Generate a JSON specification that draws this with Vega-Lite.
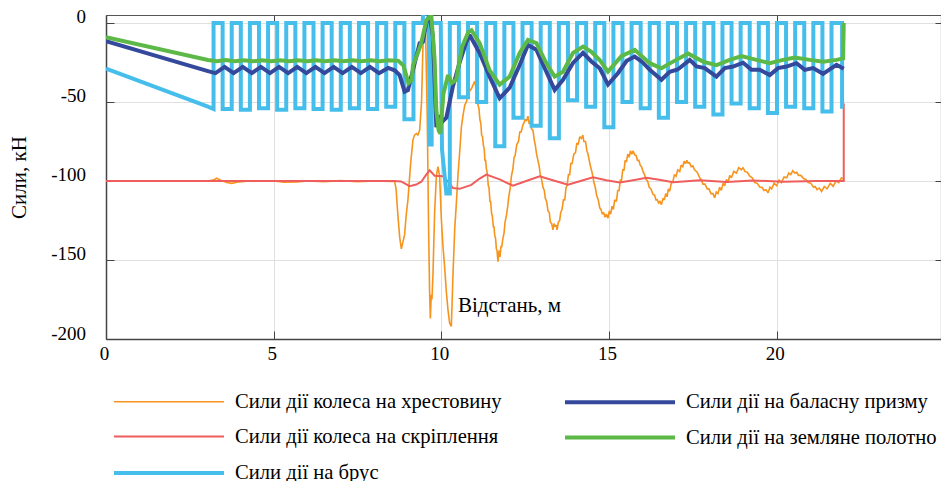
{
"$schema": "https://vega.github.io/schema/vega-lite/v6.json",
"width": 835, "height": 324,
"autosize": {"type": "none"},
"padding": {"left": 106, "top": 15, "right": 0, "bottom": 142},
"background": "white",
"config": {"font": "Liberation Serif", "view": {"stroke": null}},
"datasets": {
"lines": [
{"s":"A","x":0,"y":-100},{"s":"A","x":1.5,"y":-100.2},{"s":"A","x":3.0,"y":-100},{"s":"A","x":3.2,"y":-99.5},{"s":"A","x":3.3,"y":-98.3},{"s":"A","x":3.45,"y":-99.8},{"s":"A","x":3.6,"y":-101},{"s":"A","x":3.75,"y":-101.5},{"s":"A","x":3.9,"y":-100.8},{"s":"A","x":4.2,"y":-100.2},{"s":"A","x":5.0,"y":-100},{"s":"A","x":5.3,"y":-100.8},{"s":"A","x":5.7,"y":-100.6},{"s":"A","x":6.0,"y":-100},{"s":"A","x":6.5,"y":-100.4},{"s":"A","x":7.0,"y":-99.8},{"s":"A","x":7.5,"y":-100.5},{"s":"A","x":8.0,"y":-100},{"s":"A","x":8.55,"y":-100.3},{"s":"A","x":8.607,"y":-100.2},{"s":"A","x":8.65,"y":-105},{"s":"A","x":8.705,"y":-122},{"s":"A","x":8.76,"y":-136},{"s":"A","x":8.807,"y":-143},{"s":"A","x":8.85,"y":-139},{"s":"A","x":8.905,"y":-134},{"s":"A","x":8.95,"y":-122},{"s":"A","x":9.004,"y":-112},{"s":"A","x":9.08,"y":-90},{"s":"A","x":9.153,"y":-74},{"s":"A","x":9.2,"y":-71},{"s":"A","x":9.254,"y":-70},{"s":"A","x":9.3,"y":-71},{"s":"A","x":9.353,"y":-68},{"s":"A","x":9.41,"y":-50},{"s":"A","x":9.451,"y":-15},{"s":"A","x":9.5,"y":-4},{"s":"A","x":9.532,"y":-8},{"s":"A","x":9.58,"y":-60},{"s":"A","x":9.62,"y":-130},{"s":"A","x":9.65,"y":-170},{"s":"A","x":9.672,"y":-187},{"s":"A","x":9.7,"y":-172},{"s":"A","x":9.72,"y":-175},{"s":"A","x":9.749,"y":-160},{"s":"A","x":9.8,"y":-120},{"s":"A","x":9.851,"y":-97},{"s":"A","x":9.899,"y":-91},{"s":"A","x":9.949,"y":-97},{"s":"A","x":10.0,"y":-124},{"s":"A","x":10.048,"y":-141},{"s":"A","x":10.1,"y":-155},{"s":"A","x":10.149,"y":-170},{"s":"A","x":10.2,"y":-182},{"s":"A","x":10.248,"y":-190},{"s":"A","x":10.298,"y":-192},{"s":"A","x":10.346,"y":-160},{"s":"A","x":10.4,"y":-130},{"s":"A","x":10.448,"y":-114},{"s":"A","x":10.5,"y":-95},{"s":"A","x":10.546,"y":-82},{"s":"A","x":10.597,"y":-66},
{"s":"A","x":10.65,"y":-58},{"s":"A","x":10.7,"y":-52},{"s":"A","x":10.746,"y":-50},{"s":"A","x":10.8,"y":-45.5},{"s":"A","x":10.85,"y":-43},{"s":"A","x":10.9,"y":-41.5},{"s":"A","x":10.95,"y":-39},{"s":"A","x":10.993,"y":-37},{"s":"A","x":11.03,"y":-41},{"s":"A","x":11.06,"y":-45},{"s":"A","x":11.092,"y":-52},{"s":"A","x":11.12,"y":-54},{"s":"A","x":11.15,"y":-61},{"s":"A","x":11.18,"y":-64},{"s":"A","x":11.2,"y":-71},{"s":"A","x":11.23,"y":-72},{"s":"A","x":11.25,"y":-77},{"s":"A","x":11.28,"y":-80},{"s":"A","x":11.3,"y":-87},{"s":"A","x":11.32,"y":-87},{"s":"A","x":11.342,"y":-92},{"s":"A","x":11.37,"y":-95},{"s":"A","x":11.4,"y":-103},{"s":"A","x":11.42,"y":-104},{"s":"A","x":11.45,"y":-113},{"s":"A","x":11.47,"y":-113},{"s":"A","x":11.5,"y":-121},{"s":"A","x":11.52,"y":-122},{"s":"A","x":11.55,"y":-129},{"s":"A","x":11.57,"y":-129},{"s":"A","x":11.59,"y":-134},{"s":"A","x":11.62,"y":-137},{"s":"A","x":11.64,"y":-143},{"s":"A","x":11.66,"y":-144},{"s":"A","x":11.689,"y":-151},{"s":"A","x":11.72,"y":-144},{"s":"A","x":11.75,"y":-148},{"s":"A","x":11.78,"y":-141},{"s":"A","x":11.8,"y":-142},{"s":"A","x":11.838,"y":-136},{"s":"A","x":11.87,"y":-133},{"s":"A","x":11.9,"y":-126},{"s":"A","x":11.94,"y":-122},{"s":"A","x":11.98,"y":-116},{"s":"A","x":12.01,"y":-110},{"s":"A","x":12.05,"y":-105},{"s":"A","x":12.09,"y":-97},{"s":"A","x":12.136,"y":-92},{"s":"A","x":12.17,"y":-85},{"s":"A","x":12.2,"y":-84},{"s":"A","x":12.25,"y":-77},{"s":"A","x":12.3,"y":-75},{"s":"A","x":12.34,"y":-69},{"s":"A","x":12.38,"y":-69},{"s":"A","x":12.434,"y":-64.5},{"s":"A","x":12.47,"y":-63},{"s":"A","x":12.5,"y":-61},{"s":"A","x":12.54,"y":-62},{"s":"A","x":12.583,"y":-59},{"s":"A","x":12.62,"y":-64},{"s":"A","x":12.65,"y":-62},{"s":"A","x":12.69,"y":-67},{"s":"A","x":12.733,"y":-68},{"s":"A","x":12.77,"y":-74},{"s":"A","x":12.8,"y":-77},{"s":"A","x":12.84,"y":-83},{"s":"A","x":12.88,"y":-87},{"s":"A","x":12.92,"y":-91},{"s":"A","x":12.95,"y":-96},{"s":"A","x":12.99,"y":-99},{"s":"A","x":13.031,"y":-104},{"s":"A","x":13.07,"y":-106},{"s":"A","x":13.1,"y":-111},{"s":"A","x":13.14,"y":-113},{"s":"A","x":13.18,"y":-119},{"s":"A","x":13.22,"y":-120},{"s":"A","x":13.25,"y":-126},{"s":"A","x":13.29,"y":-127},{"s":"A","x":13.329,"y":-131},{"s":"A","x":13.36,"y":-127},{"s":"A","x":13.4,"y":-129},{"s":"A","x":13.43,"y":-128},{"s":"A","x":13.45,"y":-131},{"s":"A","x":13.49,"y":-126},{"s":"A","x":13.529,"y":-125},{"s":"A","x":13.56,"y":-120},{"s":"A","x":13.6,"y":-118},{"s":"A","x":13.64,"y":-112},{"s":"A","x":13.68,"y":-112},{"s":"A","x":13.72,"y":-104},{"s":"A","x":13.75,"y":-103},{"s":"A","x":13.79,"y":-96},{"s":"A","x":13.828,"y":-96},{"s":"A","x":13.86,"y":-89},{"s":"A","x":13.9,"y":-89},{"s":"A","x":13.95,"y":-83},{"s":"A","x":14.0,"y":-82},{"s":"A","x":14.04,"y":-76},{"s":"A","x":14.08,"y":-77},{"s":"A","x":14.13,"y":-72},{"s":"A","x":14.177,"y":-73},{"s":"A","x":14.22,"y":-71},{"s":"A","x":14.25,"y":-75},{"s":"A","x":14.3,"y":-75},{"s":"A","x":14.34,"y":-81},{"s":"A","x":14.373,"y":-83},{"s":"A","x":14.41,"y":-87},{"s":"A","x":14.45,"y":-91},{"s":"A","x":14.5,"y":-95},{"s":"A","x":14.55,"y":-101},{"s":"A","x":14.59,"y":-104},{"s":"A","x":14.63,"y":-109},{"s":"A","x":14.68,"y":-112},{"s":"A","x":14.723,"y":-117},{"s":"A","x":14.76,"y":-118},{"s":"A","x":14.8,"y":-121},{"s":"A","x":14.84,"y":-120},{"s":"A","x":14.88,"y":-123},{"s":"A","x":14.92,"y":-121},{"s":"A","x":14.97,"y":-123.5},{"s":"A","x":15.01,"y":-119},{"s":"A","x":15.05,"y":-121},{"s":"A","x":15.09,"y":-116},{"s":"A","x":15.13,"y":-118},{"s":"A","x":15.17,"y":-112},{"s":"A","x":15.221,"y":-113},{"s":"A","x":15.26,"y":-106},{"s":"A","x":15.3,"y":-106},{"s":"A","x":15.34,"y":-99},{"s":"A","x":15.37,"y":-100},{"s":"A","x":15.41,"y":-93},{"s":"A","x":15.45,"y":-93},{"s":"A","x":15.48,"y":-87},{"s":"A","x":15.519,"y":-88},{"s":"A","x":15.56,"y":-83},{"s":"A","x":15.6,"y":-85},{"s":"A","x":15.64,"y":-81},{"s":"A","x":15.68,"y":-83},{"s":"A","x":15.72,"y":-81},{"s":"A","x":15.767,"y":-83.5},{"s":"A","x":15.81,"y":-84},{"s":"A","x":15.85,"y":-87},{"s":"A","x":15.89,"y":-87},{"s":"A","x":15.93,"y":-90},{"s":"A","x":15.97,"y":-91},{"s":"A","x":16.014,"y":-94},{"s":"A","x":16.06,"y":-96},{"s":"A","x":16.1,"y":-99},{"s":"A","x":16.15,"y":-100},{"s":"A","x":16.2,"y":-104},{"s":"A","x":16.25,"y":-105},{"s":"A","x":16.313,"y":-108.5},{"s":"A","x":16.36,"y":-109},{"s":"A","x":16.4,"y":-112},{"s":"A","x":16.44,"y":-112},{"s":"A","x":16.48,"y":-114},{"s":"A","x":16.52,"y":-113},{"s":"A","x":16.563,"y":-115},{"s":"A","x":16.61,"y":-111},{"s":"A","x":16.65,"y":-112},{"s":"A","x":16.69,"y":-108},{"s":"A","x":16.73,"y":-110},{"s":"A","x":16.77,"y":-105},{"s":"A","x":16.811,"y":-106.5},{"s":"A","x":16.86,"y":-101},{"s":"A","x":16.9,"y":-101},{"s":"A","x":16.95,"y":-96},{"s":"A","x":17.0,"y":-97},{"s":"A","x":17.05,"y":-93},{"s":"A","x":17.109,"y":-94},{"s":"A","x":17.15,"y":-90},{"s":"A","x":17.2,"y":-91},{"s":"A","x":17.24,"y":-87.5},{"s":"A","x":17.28,"y":-89},{"s":"A","x":17.32,"y":-87},{"s":"A","x":17.357,"y":-88.7},{"s":"A","x":17.4,"y":-88.5},{"s":"A","x":17.45,"y":-91},{"s":"A","x":17.5,"y":-90.5},{"s":"A","x":17.55,"y":-93},{"s":"A","x":17.63,"y":-94.5},{"s":"A","x":17.706,"y":-98},{"s":"A","x":17.75,"y":-99},{"s":"A","x":17.8,"y":-102},{"s":"A","x":17.86,"y":-102},{"s":"A","x":17.93,"y":-105},{"s":"A","x":17.98,"y":-105},{"s":"A","x":18.04,"y":-108},{"s":"A","x":18.1,"y":-108},{"s":"A","x":18.153,"y":-110.7},{"s":"A","x":18.2,"y":-107},{"s":"A","x":18.25,"y":-108},{"s":"A","x":18.3,"y":-104},{"s":"A","x":18.35,"y":-106},{"s":"A","x":18.4,"y":-101.5},{"s":"A","x":18.45,"y":-103},{"s":"A","x":18.5,"y":-99},{"s":"A","x":18.55,"y":-101},{"s":"A","x":18.6,"y":-96.5},{"s":"A","x":18.65,"y":-98},{"s":"A","x":18.72,"y":-94},{"s":"A","x":18.8,"y":-95},{"s":"A","x":18.87,"y":-91.5},{"s":"A","x":18.95,"y":-93},{"s":"A","x":19.0,"y":-91.5},{"s":"A","x":19.05,"y":-94},{"s":"A","x":19.12,"y":-94.5},{"s":"A","x":19.2,"y":-97},{"s":"A","x":19.27,"y":-98},{"s":"A","x":19.347,"y":-101},{"s":"A","x":19.42,"y":-101.5},{"s":"A","x":19.5,"y":-104},{"s":"A","x":19.56,"y":-104},{"s":"A","x":19.62,"y":-106},{"s":"A","x":19.68,"y":-105.5},{"s":"A","x":19.743,"y":-107.5},{"s":"A","x":19.8,"y":-104},{"s":"A","x":19.85,"y":-105},{"s":"A","x":19.92,"y":-101.5},{"s":"A","x":20.0,"y":-103},{"s":"A","x":20.07,"y":-99.5},{"s":"A","x":20.143,"y":-101},{"s":"A","x":20.22,"y":-97.5},{"s":"A","x":20.3,"y":-98},{"s":"A","x":20.36,"y":-95},{"s":"A","x":20.42,"y":-96},{"s":"A","x":20.48,"y":-93.5},{"s":"A","x":20.54,"y":-95},{"s":"A","x":20.6,"y":-94.5},{"s":"A","x":20.65,"y":-96.5},{"s":"A","x":20.72,"y":-96.5},{"s":"A","x":20.8,"y":-98.5},{"s":"A","x":20.87,"y":-99},{"s":"A","x":20.937,"y":-101},{"s":"A","x":21.02,"y":-101.5},{"s":"A","x":21.1,"y":-104},{"s":"A","x":21.15,"y":-103.5},{"s":"A","x":21.2,"y":-105.5},{"s":"A","x":21.27,"y":-104.5},{"s":"A","x":21.337,"y":-106.6},{"s":"A","x":21.42,"y":-103.5},{"s":"A","x":21.5,"y":-105},{"s":"A","x":21.6,"y":-101.5},{"s":"A","x":21.683,"y":-103.4},{"s":"A","x":21.77,"y":-100},{"s":"A","x":21.85,"y":-101},{"s":"A","x":21.93,"y":-98},{"s":"A","x":22.0,"y":-99},
{"s":"B","x":0,"y":-100},{"s":"B","x":8.6,"y":-100},{"s":"B","x":8.8,"y":-100.3},{"s":"B","x":9.055,"y":-103.3},{"s":"B","x":9.25,"y":-102.3},{"s":"B","x":9.403,"y":-100.5},{"s":"B","x":9.55,"y":-96},{"s":"B","x":9.651,"y":-93.3},{"s":"B","x":9.8,"y":-96.7},{"s":"B","x":10.048,"y":-97},{"s":"B","x":10.2,"y":-100.5},{"s":"B","x":10.346,"y":-104.5},{"s":"B","x":10.546,"y":-105},{"s":"B","x":10.895,"y":-102.5},{"s":"B","x":11.142,"y":-98.5},{"s":"B","x":11.342,"y":-96},{"s":"B","x":11.74,"y":-99},{"s":"B","x":12.136,"y":-103},{"s":"B","x":12.53,"y":-100},{"s":"B","x":12.932,"y":-97},{"s":"B","x":13.35,"y":-99.7},{"s":"B","x":13.777,"y":-102.4},{"s":"B","x":14.15,"y":-100},{"s":"B","x":14.523,"y":-97.7},{"s":"B","x":14.92,"y":-99.5},{"s":"B","x":15.319,"y":-100.9},{"s":"B","x":15.72,"y":-99.5},{"s":"B","x":16.116,"y":-98},{"s":"B","x":16.5,"y":-99.3},{"s":"B","x":16.909,"y":-100.8},{"s":"B","x":17.706,"y":-99.6},{"s":"B","x":18.502,"y":-100.6},{"s":"B","x":19.296,"y":-99.7},{"s":"B","x":20.191,"y":-100.5},{"s":"B","x":21.187,"y":-100},{"s":"B","x":22.0,"y":-100},{"s":"B","x":22.0,"y":-51},
{"s":"C","x":0,"y":-29},{"s":"C","x":3.04,"y":-53},{"s":"C","x":3.207,"y":-54.5},
{"s":"C","x":3.207,"y":0},{"s":"C","x":3.478,"y":0},{"s":"C","x":3.478,"y":-54.5},{"s":"C","x":3.749,"y":-54.5},
{"s":"C","x":3.749,"y":0},{"s":"C","x":4.02,"y":0},{"s":"C","x":4.02,"y":-55},{"s":"C","x":4.291,"y":-55},
{"s":"C","x":4.291,"y":0},{"s":"C","x":4.562,"y":0},{"s":"C","x":4.562,"y":-54},{"s":"C","x":4.833,"y":-54},
{"s":"C","x":4.833,"y":0},{"s":"C","x":5.104,"y":0},{"s":"C","x":5.104,"y":-55},{"s":"C","x":5.375,"y":-55},
{"s":"C","x":5.375,"y":0},{"s":"C","x":5.646,"y":0},{"s":"C","x":5.646,"y":-54},{"s":"C","x":5.917,"y":-54},
{"s":"C","x":5.917,"y":0},{"s":"C","x":6.188,"y":0},{"s":"C","x":6.188,"y":-54.5},{"s":"C","x":6.459,"y":-54.5},
{"s":"C","x":6.459,"y":0},{"s":"C","x":6.73,"y":0},{"s":"C","x":6.73,"y":-55},{"s":"C","x":7.001,"y":-55},
{"s":"C","x":7.001,"y":0},{"s":"C","x":7.272,"y":0},{"s":"C","x":7.272,"y":-54},{"s":"C","x":7.543,"y":-54},
{"s":"C","x":7.543,"y":0},{"s":"C","x":7.814,"y":0},{"s":"C","x":7.814,"y":-54.5},{"s":"C","x":8.085,"y":-54.5},
{"s":"C","x":8.085,"y":0},{"s":"C","x":8.356,"y":0},{"s":"C","x":8.356,"y":-53},{"s":"C","x":8.627,"y":-53},
{"s":"C","x":8.627,"y":0},{"s":"C","x":8.898,"y":0},{"s":"C","x":8.898,"y":-61},{"s":"C","x":9.169,"y":-61},
{"s":"C","x":9.169,"y":0},{"s":"C","x":9.44,"y":0},{"s":"C","x":9.46,"y":6},{"s":"C","x":9.62,"y":6},{"s":"C","x":9.66,"y":-77},{"s":"C","x":9.711,"y":-77},
{"s":"C","x":9.711,"y":0},{"s":"C","x":9.982,"y":0},{"s":"C","x":10.02,"y":-80},{"s":"C","x":10.15,"y":-108},{"s":"C","x":10.253,"y":-108},
{"s":"C","x":10.253,"y":0},{"s":"C","x":10.524,"y":0},{"s":"C","x":10.524,"y":-47},{"s":"C","x":10.795,"y":-47},
{"s":"C","x":10.795,"y":0},{"s":"C","x":11.066,"y":0},{"s":"C","x":11.066,"y":-50},{"s":"C","x":11.337,"y":-50},
{"s":"C","x":11.337,"y":0},{"s":"C","x":11.608,"y":0},{"s":"C","x":11.608,"y":-78},{"s":"C","x":11.879,"y":-78},
{"s":"C","x":11.879,"y":0},{"s":"C","x":12.15,"y":0},{"s":"C","x":12.15,"y":-60},{"s":"C","x":12.421,"y":-60},
{"s":"C","x":12.421,"y":0},{"s":"C","x":12.692,"y":0},{"s":"C","x":12.692,"y":-65},{"s":"C","x":12.963,"y":-65},
{"s":"C","x":12.963,"y":0},{"s":"C","x":13.234,"y":0},{"s":"C","x":13.234,"y":-73},{"s":"C","x":13.505,"y":-73},
{"s":"C","x":13.505,"y":0},{"s":"C","x":13.776,"y":0},{"s":"C","x":13.776,"y":-49},{"s":"C","x":14.047,"y":-49},
{"s":"C","x":14.047,"y":0},{"s":"C","x":14.318,"y":0},{"s":"C","x":14.318,"y":-53},{"s":"C","x":14.589,"y":-53},
{"s":"C","x":14.589,"y":0},{"s":"C","x":14.86,"y":0},{"s":"C","x":14.86,"y":-66},{"s":"C","x":15.131,"y":-66},
{"s":"C","x":15.131,"y":0},{"s":"C","x":15.402,"y":0},{"s":"C","x":15.402,"y":-50},{"s":"C","x":15.673,"y":-50},
{"s":"C","x":15.673,"y":0},{"s":"C","x":15.944,"y":0},{"s":"C","x":15.944,"y":-54},{"s":"C","x":16.215,"y":-54},
{"s":"C","x":16.215,"y":0},{"s":"C","x":16.486,"y":0},{"s":"C","x":16.486,"y":-60},{"s":"C","x":16.757,"y":-60},
{"s":"C","x":16.757,"y":0},{"s":"C","x":17.028,"y":0},{"s":"C","x":17.028,"y":-50},{"s":"C","x":17.299,"y":-50},
{"s":"C","x":17.299,"y":0},{"s":"C","x":17.57,"y":0},{"s":"C","x":17.57,"y":-53},{"s":"C","x":17.841,"y":-53},
{"s":"C","x":17.841,"y":0},{"s":"C","x":18.112,"y":0},{"s":"C","x":18.112,"y":-58},{"s":"C","x":18.383,"y":-58},
{"s":"C","x":18.383,"y":0},{"s":"C","x":18.654,"y":0},{"s":"C","x":18.654,"y":-51},{"s":"C","x":18.925,"y":-51},
{"s":"C","x":18.925,"y":0},{"s":"C","x":19.196,"y":0},{"s":"C","x":19.196,"y":-54},{"s":"C","x":19.467,"y":-54},
{"s":"C","x":19.467,"y":0},{"s":"C","x":19.738,"y":0},{"s":"C","x":19.738,"y":-57},{"s":"C","x":20.009,"y":-57},
{"s":"C","x":20.009,"y":0},{"s":"C","x":20.28,"y":0},{"s":"C","x":20.28,"y":-53},{"s":"C","x":20.551,"y":-53},
{"s":"C","x":20.551,"y":0},{"s":"C","x":20.822,"y":0},{"s":"C","x":20.822,"y":-54},{"s":"C","x":21.093,"y":-54},
{"s":"C","x":21.093,"y":0},{"s":"C","x":21.364,"y":0},{"s":"C","x":21.364,"y":-56},{"s":"C","x":21.635,"y":-56},
{"s":"C","x":21.635,"y":0},{"s":"C","x":21.95,"y":0},{"s":"C","x":21.95,"y":-53},{"s":"C","x":22.0,"y":-53},
{"s":"D","x":0,"y":-11.5},{"s":"D","x":3.04,"y":-30.5},{"s":"D","x":3.264,"y":-31.8},{"s":"D","x":3.535,"y":-27.8},{"s":"D","x":3.806,"y":-31.8},{"s":"D","x":4.077,"y":-27.8},{"s":"D","x":4.348,"y":-31.8},{"s":"D","x":4.619,"y":-27.8},{"s":"D","x":4.89,"y":-31.8},{"s":"D","x":5.161,"y":-27.8},{"s":"D","x":5.432,"y":-31.8},{"s":"D","x":5.703,"y":-27.8},{"s":"D","x":5.974,"y":-31.8},{"s":"D","x":6.245,"y":-27.8},{"s":"D","x":6.516,"y":-31.8},{"s":"D","x":6.787,"y":-27.8},{"s":"D","x":7.058,"y":-31.8},{"s":"D","x":7.329,"y":-27.8},{"s":"D","x":7.6,"y":-31.8},{"s":"D","x":7.871,"y":-27.8},{"s":"D","x":8.142,"y":-31.8},{"s":"D","x":8.413,"y":-28.5},{"s":"D","x":8.607,"y":-30},{"s":"D","x":8.756,"y":-33},{"s":"D","x":8.905,"y":-43.5},{"s":"D","x":9.004,"y":-42.5},{"s":"D","x":9.153,"y":-30},{"s":"D","x":9.353,"y":-12.8},{"s":"D","x":9.451,"y":-12},{"s":"D","x":9.553,"y":0},{"s":"D","x":9.651,"y":5},{"s":"D","x":9.749,"y":-8.7},{"s":"D","x":9.851,"y":-66},{"s":"D","x":9.949,"y":-60},{"s":"D","x":10.048,"y":-62},{"s":"D","x":10.149,"y":-60},{"s":"D","x":10.346,"y":-40},{"s":"D","x":10.546,"y":-25},{"s":"D","x":10.746,"y":-12},{"s":"D","x":10.844,"y":-7.6},{"s":"D","x":11.142,"y":-19},{"s":"D","x":11.44,"y":-34},{"s":"D","x":11.739,"y":-47.7},{"s":"D","x":12.037,"y":-41},{"s":"D","x":12.336,"y":-26.6},{"s":"D","x":12.583,"y":-14},{"s":"D","x":12.834,"y":-17},{"s":"D","x":13.082,"y":-28.7},{"s":"D","x":13.38,"y":-42.4},{"s":"D","x":13.628,"y":-36},{"s":"D","x":13.926,"y":-25.3},{"s":"D","x":14.224,"y":-19},{"s":"D","x":14.475,"y":-24.4},{"s":"D","x":14.723,"y":-28.7},{"s":"D","x":14.97,"y":-39},{"s":"D","x":15.259,"y":-32},{"s":"D","x":15.528,"y":-24},{"s":"D","x":15.767,"y":-21.3},{"s":"D","x":16.006,"y":-25},{"s":"D","x":16.215,"y":-29.7},{"s":"D","x":16.563,"y":-36},{"s":"D","x":16.811,"y":-31},{"s":"D","x":17.049,"y":-29.5},{"s":"D","x":17.408,"y":-23.4},{"s":"D","x":17.608,"y":-27.6},{"s":"D","x":17.855,"y":-28.6},{"s":"D","x":18.204,"y":-34},{"s":"D","x":18.452,"y":-28.6},{"s":"D","x":18.699,"y":-27.6},{"s":"D","x":18.998,"y":-25.2},{"s":"D","x":19.248,"y":-29.7},{"s":"D","x":19.496,"y":-29.7},{"s":"D","x":19.794,"y":-33},{"s":"D","x":20.042,"y":-28.6},{"s":"D","x":20.292,"y":-27.6},{"s":"D","x":20.591,"y":-25.5},{"s":"D","x":20.838,"y":-29.7},{"s":"D","x":21.086,"y":-28.6},{"s":"D","x":21.384,"y":-32.2},{"s":"D","x":21.635,"y":-28.6},{"s":"D","x":21.784,"y":-26.5},{"s":"D","x":22.0,"y":-29},
{"s":"E","x":0,"y":-9},{"s":"E","x":3.04,"y":-23.5},{"s":"E","x":3.3,"y":-24.3},{"s":"E","x":3.57,"y":-23.5},{"s":"E","x":3.84,"y":-24.3},{"s":"E","x":4.11,"y":-23.6},{"s":"E","x":4.38,"y":-24.3},{"s":"E","x":4.65,"y":-23.6},{"s":"E","x":4.92,"y":-24.3},{"s":"E","x":5.19,"y":-23.6},{"s":"E","x":5.46,"y":-24.3},{"s":"E","x":5.73,"y":-23.6},{"s":"E","x":6.0,"y":-24.3},{"s":"E","x":6.27,"y":-23.6},{"s":"E","x":6.54,"y":-24.3},{"s":"E","x":6.81,"y":-23.6},{"s":"E","x":7.08,"y":-24.3},{"s":"E","x":7.35,"y":-23.6},{"s":"E","x":7.62,"y":-24.3},{"s":"E","x":7.89,"y":-23.6},{"s":"E","x":8.16,"y":-24.2},{"s":"E","x":8.43,"y":-23.6},{"s":"E","x":8.72,"y":-24},{"s":"E","x":8.87,"y":-27},{"s":"E","x":9.02,"y":-38},{"s":"E","x":9.12,"y":-36},{"s":"E","x":9.153,"y":-27},{"s":"E","x":9.3,"y":-19},{"s":"E","x":9.4,"y":-12.8},{"s":"E","x":9.553,"y":1.7},{"s":"E","x":9.7,"y":5},{"s":"E","x":9.8,"y":-23.4},{"s":"E","x":9.85,"y":-55},{"s":"E","x":9.92,"y":-68},{"s":"E","x":9.97,"y":-70},{"s":"E","x":10.06,"y":-45},{"s":"E","x":10.2,"y":-33},{"s":"E","x":10.31,"y":-38},{"s":"E","x":10.44,"y":-36},{"s":"E","x":10.62,"y":-15},{"s":"E","x":10.8,"y":-6},{"s":"E","x":10.9,"y":-4.6},{"s":"E","x":11.142,"y":-12.8},{"s":"E","x":11.44,"y":-30},{"s":"E","x":11.739,"y":-39},{"s":"E","x":12.037,"y":-34},{"s":"E","x":12.336,"y":-19},{"s":"E","x":12.583,"y":-10.8},{"s":"E","x":12.834,"y":-12.8},{"s":"E","x":13.13,"y":-25.5},{"s":"E","x":13.38,"y":-34},{"s":"E","x":13.628,"y":-30.9},{"s":"E","x":13.926,"y":-19},{"s":"E","x":14.224,"y":-15},{"s":"E","x":14.475,"y":-18.3},{"s":"E","x":14.723,"y":-23.5},{"s":"E","x":14.97,"y":-30.8},{"s":"E","x":15.37,"y":-21},{"s":"E","x":15.767,"y":-17},{"s":"E","x":16.215,"y":-25.5},{"s":"E","x":16.563,"y":-28.7},{"s":"E","x":16.909,"y":-24.5},{"s":"E","x":17.357,"y":-19.3},{"s":"E","x":17.805,"y":-24.5},{"s":"E","x":18.204,"y":-26.7},{"s":"E","x":18.601,"y":-23.4},{"s":"E","x":18.95,"y":-21},{"s":"E","x":19.396,"y":-23.4},{"s":"E","x":19.794,"y":-25.5},{"s":"E","x":20.191,"y":-23.4},{"s":"E","x":20.54,"y":-21.9},{"s":"E","x":20.988,"y":-23.4},{"s":"E","x":21.384,"y":-24.5},{"s":"E","x":21.784,"y":-23.4},{"s":"E","x":21.98,"y":-22.5},{"s":"E","x":22.0,"y":0}
],
"frame": [{"x":0,"y":-200},{"x":24.9,"y":5}]
},
"layer": [
{
"data": {"name": "lines"},
"mark": {"type": "line", "clip": true, "strokeJoin": "miter", "strokeMiterLimit": 2},
"encoding": {
"x": {"field": "x", "type": "quantitative", "scale": {"domain": [0, 24.9], "nice": false, "zero": false},
 "axis": {"values": [0,5,10,15,20], "labelExpr": "'' + datum.value", "title": "Відстань, м", "titleX": 403, "titleY": -28, "titleAlign": "center", "titleBaseline": "alphabetic", "titleFont": "Liberation Serif", "titleFontSize": 21, "titleFontWeight": "normal", "titleColor": "black", "labelFont": "Liberation Serif", "labelFontSize": 19, "labelColor": "black", "labelFlush": false, "labelOffset": -2, "labelPadding": 13.5, "tickSize": -8, "tickColor": "#444", "tickWidth": 1, "domainColor": "#444", "domainWidth": 1.5, "grid": true, "gridColor": "#e0e0e0", "gridWidth": 1}},
"y": {"field": "y", "type": "quantitative", "scale": {"domain": [-200, 5], "nice": false, "zero": false},
 "axis": {"values": [-200,-150,-100,-50,0], "labelExpr": "'' + datum.value", "title": "Сили, кН", "titleFont": "Liberation Serif", "titleFontSize": 21, "titleFontWeight": "normal", "titleColor": "black", "titlePadding": 21, "labelFont": "Liberation Serif", "labelFontSize": 19, "labelColor": "black", "labelFlush": false, "labelOffset": -6, "labelPadding": 28.5, "tickSize": -8, "tickColor": "#444", "tickWidth": 1, "domainColor": "#444", "domainWidth": 1.5, "grid": true, "gridColor": "#e0e0e0", "gridWidth": 1}},
"color": {"field": "s", "type": "nominal", "scale": {"domain": ["A","B","C","D","E"], "range": ["#F7941D","#EF5D5D","#46BEEC","#34489C","#5CB947"]},
 "legend": {"orient": "none", "legendX": 51, "legendY": 375, "columns": 2, "title": null, "symbolType": "M-5.5,0H5.5", "symbolSize": 400, "labelFont": "Liberation Serif", "labelFontSize": 20.6, "labelColor": "black", "labelOffset": 54, "columnPadding": 55, "rowPadding": 12.5, "labelLimit": 500,
  "labelExpr": "{'A':'Сили дії колеса на хрестовину','B':'Сили дії колеса на скріплення','C':'Сили дії на брус','D':'Сили дії на баласну призму','E':'Сили дії на земляне полотно'}[datum.label]"}},
"strokeWidth": {"field": "s", "type": "nominal", "scale": {"type": "ordinal", "domain": ["A","B","C","D","E"], "range": [1.6,2,4,4,4]},
 "legend": {"orient": "none", "legendX": 51, "legendY": 375, "columns": 2, "title": null, "symbolType": "M-5.5,0H5.5", "symbolSize": 400, "labelFont": "Liberation Serif", "labelFontSize": 20.6, "labelColor": "black", "labelOffset": 54, "columnPadding": 55, "rowPadding": 12.5, "labelLimit": 500,
  "labelExpr": "{'A':'Сили дії колеса на хрестовину','B':'Сили дії колеса на скріплення','C':'Сили дії на брус','D':'Сили дії на баласну призму','E':'Сили дії на земляне полотно'}[datum.label]"}},
"order": {"value": null}
}
},
{
"data": {"name": "frame"},
"mark": {"type": "point", "opacity": 0},
"encoding": {
"x": {"field": "x", "type": "quantitative", "axis": {"orient": "top", "values": [0,5,10,15,20], "title": null, "labels": false, "grid": false, "tickSize": -6, "tickColor": "#444", "domainColor": "#555", "domainWidth": 1.2}},
"y": {"field": "y", "type": "quantitative", "axis": {"orient": "right", "values": [-200,-150,-100,-50,0], "title": null, "labels": false, "grid": false, "tickSize": -6, "tickColor": "#444", "domainColor": "#555", "domainWidth": 1.2}}
}
}
],
"resolve": {"axis": {"x": "independent", "y": "independent"}}
}
